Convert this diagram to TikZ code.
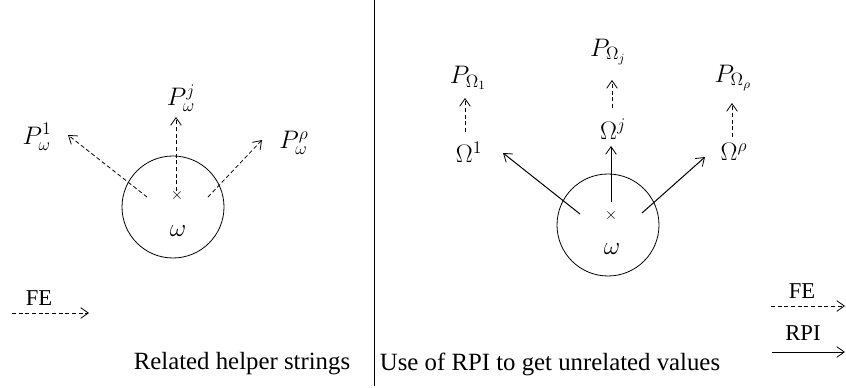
\RequirePackage{fix-cm}
\documentclass[tikz,border=0pt]{standalone}
\usepackage{fontspec}
\setmainfont{Liberation Serif}
\usetikzlibrary{arrows.meta}
\begin{document}
\begin{tikzpicture}[x=0.75pt,y=-0.75pt,
  tipbarb/.style={-{Straight Barb[angle=70:7pt,line width=0.6pt]}},
  dsh/.style={tipbarb,dashed,dash pattern=on 3pt off 2pt,line width=0.6pt},
  sld/.style={tipbarb,line width=0.75pt},
  lbl/.style={inner sep=0pt,font=\fontsize{19}{22}\selectfont},
  small/.style={inner sep=0pt,font=\fontsize{17}{20}\selectfont},
  captext/.style={inner sep=0pt,font=\fontsize{18.6}{22}\selectfont},
  circ/.style={draw,circle,minimum size=76.5pt,inner sep=0pt,line width=0.6pt}]
\useasboundingbox (0,0) rectangle (846,388);
\draw[line width=0.6pt] (374,0) -- (374,386);
% left panel
\node[circ] (lc) at (173,207) {};
\node[lbl,font=\fontsize{12}{14}\selectfont] (lxm) at (177,196) {$\times$};
\node[lbl] (lw) at (178,231) {$\omega$};
\node[lbl] (lpj) at (181,98) {$P_\omega^j$};
\node[lbl] (lp1) at (37,137) {$P_\omega^1$};
\node[lbl] (lpr) at (294,143) {$P_\omega^\rho$};
\coordinate (ls1) at (147,197);
\coordinate (le1) at (68,135);
\coordinate (ls2) at (176,191);
\coordinate (le2) at (176,117);
\coordinate (ls3) at (208,197);
\coordinate (le3) at (262,140);
\draw[dsh] (ls1) -- (le1);
\draw[dsh] (ls2) -- (le2);
\draw[dsh] (ls3) -- (le3);
\node[small] (lfe) at (39,298) {FE};
\coordinate (lfa) at (12,313);
\coordinate (lfb) at (89,313);
\draw[dsh] (lfa) -- (lfb);
\node[captext] (lcap) at (242,364) {Related helper strings};
% right panel
\node[circ] (rc) at (608,225) {};
\node[lbl,font=\fontsize{12}{14}\selectfont] (rxm) at (611,216) {$\times$};
\node[lbl] (rw) at (612,249) {$\omega$};
\node[lbl] (ro1) at (469,152) {$\Omega^1$};
\node[lbl] (roj) at (613,129) {$\Omega^j$};
\node[lbl] (ror) at (734,152) {$\Omega^\rho$};
\node[lbl] (rp1) at (468,78) {$P_{\Omega_1}$};
\node[lbl] (rpj) at (608,52) {$P_{\Omega_j}$};
\node[lbl] (rpr) at (733,78) {$P_{\Omega_\rho}$};
\coordinate (rs1) at (580,214);
\coordinate (re1) at (503,153);
\coordinate (rs2) at (611,202);
\coordinate (re2) at (611,146);
\coordinate (rs3) at (642,213);
\coordinate (re3) at (705,157);
\draw[sld] (rs1) -- (re1);
\draw[sld] (rs2) -- (re2);
\draw[sld] (rs3) -- (re3);
\coordinate (rd1a) at (465,132);
\coordinate (rd1b) at (465,98);
\coordinate (rd2a) at (612,108);
\coordinate (rd2b) at (612,80);
\coordinate (rd3a) at (732,137);
\coordinate (rd3b) at (732,103);
\draw[dsh] (rd1a) -- (rd1b);
\draw[dsh] (rd2a) -- (rd2b);
\draw[dsh] (rd3a) -- (rd3b);
\node[small] (rfe) at (802,291) {FE};
\coordinate (rfa) at (771,306);
\coordinate (rfb) at (845,306);
\draw[dsh] (rfa) -- (rfb);
\node[small] (rrpi) at (803,333) {RPI};
\coordinate (rra) at (772,352);
\coordinate (rrb) at (845,352);
\draw[sld] (rra) -- (rrb);
\node[captext] (rcap) at (550,364) {Use of RPI to get unrelated values};
\end{tikzpicture}
\end{document}
